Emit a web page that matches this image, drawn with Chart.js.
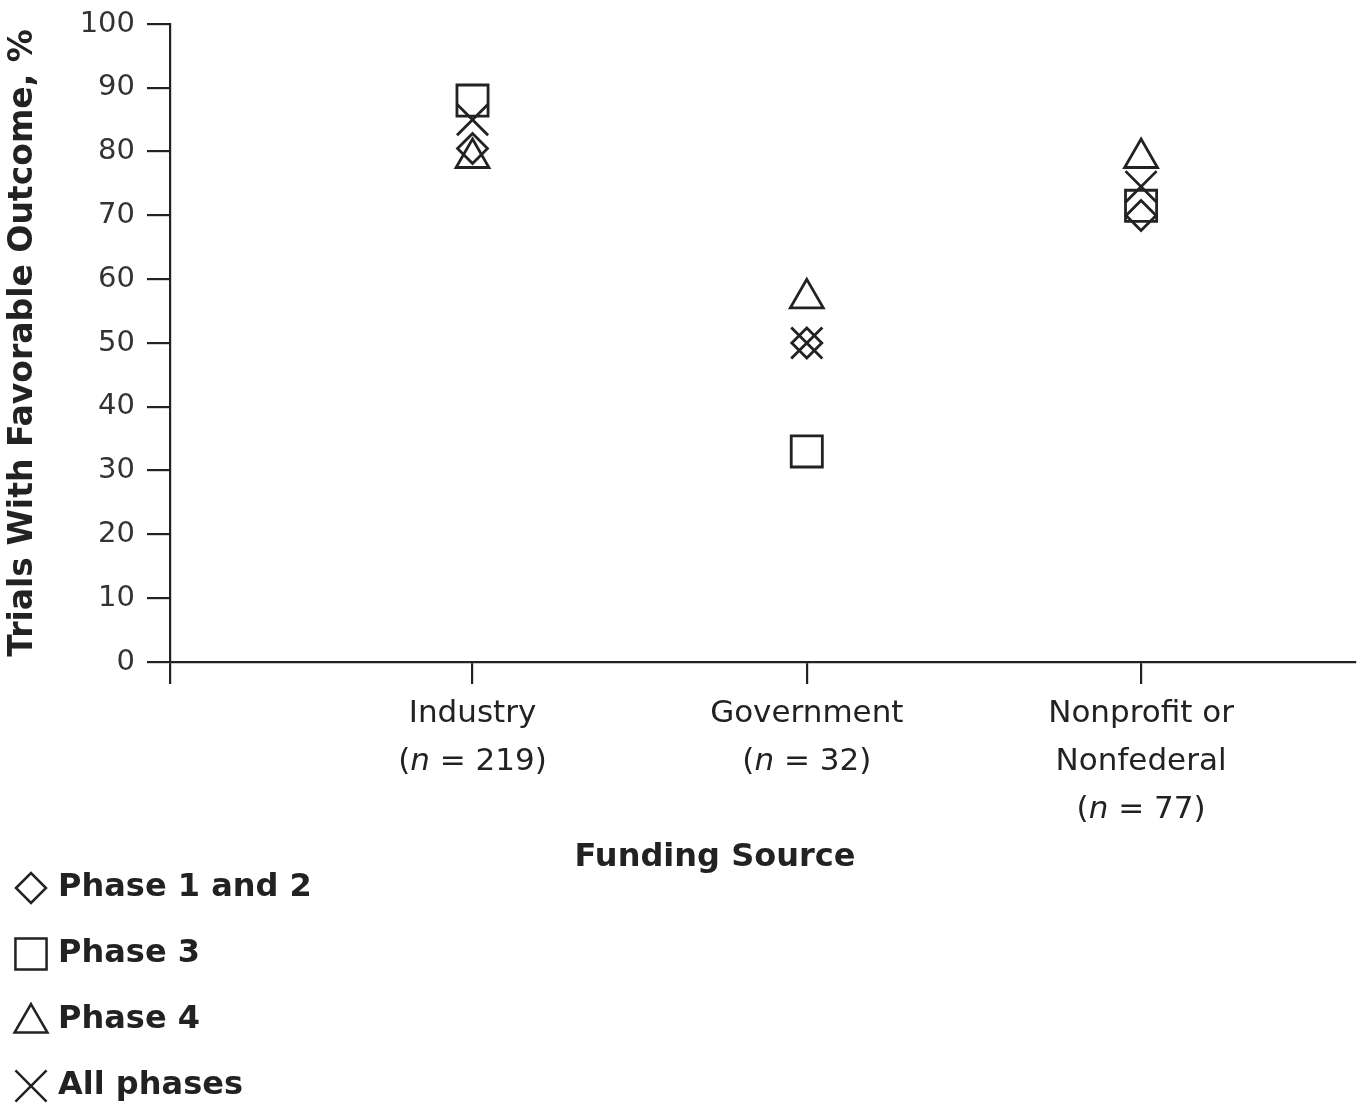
<!DOCTYPE html>
<html>
<head>
<meta charset="utf-8">
<script src="https://cdn.jsdelivr.net/npm/chart.js@4/dist/chart.umd.min.js"></script>
<style>
  html, body { margin: 0; padding: 0; background: #fff; }
  #wrap { width: 1360px; height: 1108px; }
</style>
</head>
<body>
<div id="wrap"><canvas id="chart" width="1360" height="1108"></canvas></div>
<script>
const categories = [['Industry'], ['Government'], ['Nonprofit or', 'Nonfederal']];
const sampleSizes = [219, 32, 77];
const phase12 = [80.5, 50, 70];
const phase3 = [88, 33, 71.5];
const phase4 = [79, 57, 79];
const allPhases = [85, 50, 74.5];
const seriesNames = ['Phase 1 and 2', 'Phase 3', 'Phase 4', 'All phases'];

const ink = '#222';
const font = '"DejaVu Sans", "Noto Sans", sans-serif';
const xMin = 0.095, xMax = 3.64;

function pts(arr) {
  return arr.map((v, i) => ({ x: i + 1, y: v }));
}

function marker(style, radius) {
  return {
    pointStyle: style,
    pointRadius: radius,
    pointHoverRadius: radius,
    pointBorderColor: ink,
    pointBackgroundColor: 'rgba(0,0,0,0)',
    pointBorderWidth: 2.8,
    showLine: false
  };
}

// x labels with italic n, axis title and the legend
const extras = {
  id: 'extras',
  afterDraw(chart) {
    const ctx = chart.ctx;
    const xs = chart.scales.x;
    const reg = '31px ' + font, ital = 'italic 31px ' + font;
    ctx.save();
    ctx.fillStyle = ink;
    ctx.textBaseline = 'middle';
    ctx.textAlign = 'left';
    categories.forEach((lines, i) => {
      const cx = xs.getPixelForValue(i + 1);
      let y = 714;
      ctx.font = reg;
      lines.forEach(l => {
        const w = ctx.measureText(l).width;
        ctx.fillText(l, cx - w / 2, y);
        y += 48;
      });
      const a = '(', b = 'n', c = ' = ' + sampleSizes[i] + ')';
      ctx.font = reg;
      const wa = ctx.measureText(a).width, wc = ctx.measureText(c).width;
      ctx.font = ital;
      const wb = ctx.measureText(b).width;
      let x = cx - (wa + wb + wc) / 2;
      ctx.font = reg;
      ctx.fillText(a, x, y); x += wa;
      ctx.font = ital;
      ctx.fillText(b, x, y); x += wb;
      ctx.font = reg;
      ctx.fillText(c, x, y);
    });

    ctx.font = 'bold 32px ' + font;
    ctx.textAlign = 'center';
    ctx.fillText('Funding Source', 715, 858);

    // legend
    const styles = ['rectRot', 'rect', 'triangle', 'crossRot'];
    const radii = [15, 22, 19, 22];
    ctx.textAlign = 'left';
    seriesNames.forEach((name, i) => {
      const y = 888 + i * 66;
      ctx.strokeStyle = ink;
      ctx.fillStyle = 'rgba(0,0,0,0)';
      ctx.lineWidth = 2.5;
      Chart.helpers.drawPoint(ctx, {pointStyle: styles[i], radius: radii[i], rotation: 0, borderWidth: 2.5}, 31, i === 2 ? y + 3 : y);
      ctx.fillStyle = ink;
      ctx.font = 'bold 32px ' + font;
      ctx.fillText(name, 58, y);
    });
    ctx.restore();
  }
};

new Chart(document.getElementById('chart'), {
  type: 'scatter',
  data: {
    datasets: [
      { label: seriesNames[0], data: pts(phase12), ...marker('rectRot', 15) },
      { label: seriesNames[1], data: pts(phase3), ...marker('rect', 22) },
      { label: seriesNames[2], data: pts(phase4), ...marker('triangle', 19) },
      { label: seriesNames[3], data: pts(allPhases), ...marker('crossRot', 22) }
    ]
  },
  options: {
    responsive: false,
    animation: false,
    layout: { autoPadding: false, padding: { top: 24, right: 5, left: 0, bottom: 0 } },
    plugins: {
      legend: { display: false },
      tooltip: { enabled: false }
    },
    scales: {
      x: {
        type: 'linear',
        min: xMin,
        max: xMax,
        afterBuildTicks: s => { s.ticks = [xMin, 1, 2, 3].map(v => ({ value: v })); },
        afterFit: s => { s.height = 446; },
        ticks: { display: false },
        grid: { drawOnChartArea: false, tickLength: 22, color: ink, lineWidth: 2.2 },
        border: { color: ink, width: 2.2 }
      },
      y: {
        min: 0,
        max: 100,
        afterFit: s => { s.width = 170; s.paddingTop = 0; s.paddingBottom = 0; },
        ticks: { stepSize: 10, color: '#333', padding: 12, font: { family: font, size: 29 } },
        grid: { drawOnChartArea: false, tickLength: 23, color: ink, lineWidth: 2.2 },
        border: { color: ink, width: 2.2 },
        title: {
          display: true,
          text: 'Trials With Favorable Outcome, %',
          color: ink,
          padding: { top: 4, bottom: 0 },
          font: { family: font, size: 33, weight: 'bold' }
        }
      }
    }
  },
  plugins: [extras]
});
</script>
</body>
</html>
